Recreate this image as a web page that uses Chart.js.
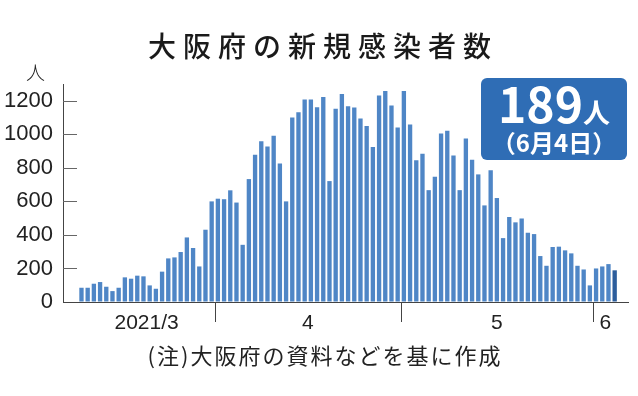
<!DOCTYPE html>
<html>
<head>
<meta charset="utf-8">
<script src="https://cdn.jsdelivr.net/npm/chart.js@4.4.1/dist/chart.umd.min.js"></script>
<style>
    html, body { margin: 0; padding: 0; background: #fff; }
    #wrap { position: relative; width: 638px; height: 396px; overflow: hidden; }
    #chart { position: absolute; left: 0; top: 0; }
    .title {
        position: absolute; left: 4px; top: 31px; width: 638px; text-align: center;
        font: 500 28px/28px "Noto Sans CJK JP", sans-serif; letter-spacing: 7px; color: #1a1a1a;
    }
    .unit {
        position: absolute; left: 26px; top: 62px;
        font: 300 19px/19px "Noto Sans CJK JP", sans-serif; color: #222;
    }
    .note {
        position: absolute; left: 0; top: 343px; width: 650px; text-align: center;
        font: 400 22px/22px "Noto Sans CJK JP", sans-serif; color: #222; letter-spacing: 2px;
    }
    .badge {
        position: absolute; left: 481px; top: 78px; width: 146px; height: 82px;
        background: #2f6db5; border-radius: 6px; color: #fff; text-align: center;
        font-family: "Noto Sans CJK JP", sans-serif; font-weight: 700;
    }
    .badge .big { position: absolute; left: 0; top: 0; width: 146px; font-size: 48px; line-height: 48px; }
    .badge .big span { font-size: 27px; }
    .badge .small { position: absolute; left: 0; top: 52px; width: 146px; font-size: 24px; line-height: 24px; }
</style>
</head>
<body>
<div id="wrap">
    <canvas id="chart" width="638" height="396"></canvas>
    <div class="title">大阪府の新規感染者数</div>
    <div class="unit">人</div>
    <div class="badge">
        <div class="big">189<span>人</span></div>
        <div class="small">（6月4日）</div>
    </div>
    <div class="note">(注)大阪府の資料などを基に作成</div>
</div>
<script>
// daily new cases, 2021/3/10 - 2021/6/4
const startDate = [2021, 3, 10];
const marchCases = [85, 85, 109, 119, 91, 65, 85, 147, 139, 157, 153, 99, 79, 181, 260, 266, 298, 385, 322, 212, 431, 600];
const aprilCases = [616, 613, 666, 593, 341, 733, 878, 959, 927, 991, 826, 600, 1100, 1132, 1207, 1207, 1162, 1222, 721, 1152,
    1241, 1168, 1160, 1094, 1049, 924, 1231, 1259, 1172, 1041];
const mayCases = [1259, 1059, 846, 884, 667, 747, 1005, 1021, 874, 667, 975, 848, 761, 576, 785, 620, 381, 507, 475, 498,
    413, 405, 274, 216, 328, 330, 308, 290, 216, 194, 99];
const juneCases = [200, 212, 226, 189];
const cases = [...marchCases, ...aprilCases, ...mayCases, ...juneCases];

const yTicks = [0, 200, 400, 600, 800, 1000, 1200];
const monthLabels = ['2021/3', '4', '5', '6'];

// one label per day
const dates = cases.map((v, i) => {
    const d = new Date(Date.UTC(startDate[0], startDate[1] - 1, startDate[2] + i));
    return (d.getUTCMonth() + 1) + '/' + d.getUTCDate();
});
const monthOf = dates.map(s => +s.split('/')[0]);

// month boundaries and label centres, from the dates
const boundaries = [];
const monthCentres = [];
let first = 0;
for (let i = 1; i <= dates.length; i++) {
    if (i === dates.length || monthOf[i] !== monthOf[i - 1]) {
        monthCentres.push((first + i - 1) / 2);
        if (i < dates.length) boundaries.push(i - 0.5);
        first = i;
    }
}

const barColor = '#4f86c6';
const lastColor = '#2c5d9c';
const axisColor = '#444';
const numFont = "'Liberation Sans Narrow', 'Arial Narrow', 'Liberation Sans', sans-serif";

const axisMarks = {
    id: 'axisMarks',
    afterDraw(chart) {
        const { ctx, scales: { x, y }, chartArea } = chart;
        ctx.save();
        ctx.strokeStyle = '#666';
        ctx.lineWidth = 1;
        yTicks.filter(v => v > 0).forEach(v => {
            const py = Math.round(y.getPixelForValue(v)) + 0.5;
            ctx.beginPath();
            ctx.moveTo(chartArea.left, py);
            ctx.lineTo(chartArea.left + 14, py);
            ctx.stroke();
        });
        ctx.strokeStyle = axisColor;
        boundaries.forEach(b => {
            const px = Math.round(x.getPixelForValue(b)) + 0.5;
            ctx.beginPath();
            ctx.moveTo(px, chartArea.bottom);
            ctx.lineTo(px, chartArea.bottom + 20);
            ctx.stroke();
        });
        ctx.restore();
    }
};

const ctx = document.getElementById('chart').getContext('2d');
new Chart(ctx, {
    type: 'bar',
    data: {
        labels: dates,
        datasets: [{
            data: cases.map((v, i) => ({ x: i, y: v })),
            backgroundColor: cases.map((v, i) => i === cases.length - 1 ? lastColor : barColor),
            barPercentage: 0.7,
            categoryPercentage: 1.0
        }]
    },
    options: {
        responsive: false,
        animation: false,
        devicePixelRatio: 1,
        layout: { padding: { left: 0, right: 10, top: 84, bottom: 0 } },
        plugins: { legend: { display: false }, tooltip: { enabled: false }, title: { display: false } },
        scales: {
            x: {
                type: 'linear',
                min: -2.98,
                max: 88.15,
                offset: false,
                afterBuildTicks: scale => { scale.ticks = monthCentres.map(v => ({ value: v })); },
                afterFit: scale => { scale.height = 94; },
                ticks: {
                    autoSkip: false,
                    maxRotation: 0,
                    padding: 9,
                    color: '#222',
                    font: { family: numFont, size: 21 },
                    callback: (v, i) => monthLabels[i]
                },
                grid: { display: true, drawOnChartArea: false, drawTicks: false },
                border: { display: true, color: axisColor, width: 1 }
            },
            y: {
                min: 0,
                max: 1300,
                afterBuildTicks: scale => { scale.ticks = yTicks.map(v => ({ value: v })); },
                afterFit: scale => { scale.width = 63; },
                ticks: {
                    padding: 10,
                    color: '#222',
                    font: { family: numFont, size: 22 },
                    callback: v => String(v)
                },
                grid: { display: true, drawOnChartArea: false, drawTicks: false },
                border: { display: true, color: axisColor, width: 1 }
            }
        }
    },
    plugins: [axisMarks]
});
</script>
</body>
</html>
